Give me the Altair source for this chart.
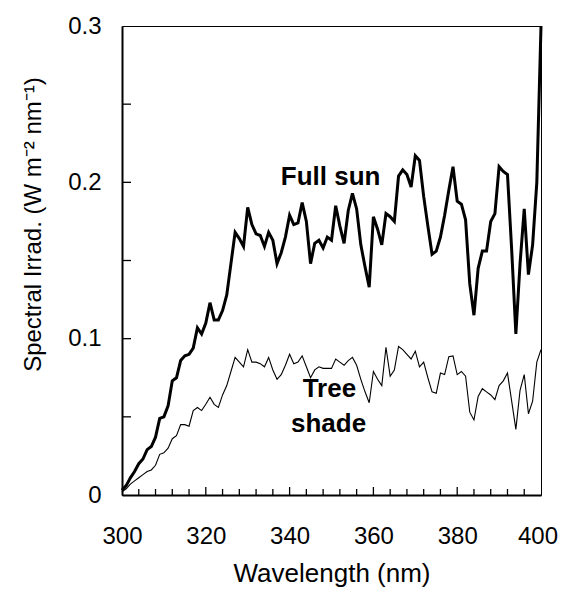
import altair as alt
import pandas as pd

wavelength = [300, 301, 302, 303, 304, 305, 306, 307, 308, 309,
              310, 311, 312, 313, 314, 315, 316, 317, 318, 319,
              320, 321, 322, 323, 324, 325, 326, 327, 328, 329,
              330, 331, 332, 333, 334, 335, 336, 337, 338, 339,
              340, 341, 342, 343, 344, 345, 346, 347, 348, 349,
              350, 351, 352, 353, 354, 355, 356, 357, 358, 359,
              360, 361, 362, 363, 364, 365, 366, 367, 368, 369,
              370, 371, 372, 373, 374, 375, 376, 377, 378, 379,
              380, 381, 382, 383, 384, 385, 386, 387, 388, 389,
              390, 391, 392, 393, 394, 395, 396, 397, 398, 399, 400]

full_sun = [0.003, 0.006, 0.011, 0.015, 0.020, 0.023, 0.029, 0.031, 0.037, 0.049,
            0.050, 0.057, 0.073, 0.075, 0.086, 0.089, 0.090, 0.094, 0.107, 0.103,
            0.110, 0.123, 0.112, 0.112, 0.118, 0.128, 0.148, 0.168, 0.164, 0.159,
            0.184, 0.173, 0.167, 0.166, 0.159, 0.168, 0.163, 0.148, 0.155, 0.165,
            0.179, 0.173, 0.174, 0.187, 0.175, 0.148, 0.161, 0.163, 0.158, 0.165,
            0.163, 0.185, 0.172, 0.161, 0.182, 0.193, 0.183, 0.160, 0.146, 0.133,
            0.178, 0.170, 0.160, 0.180, 0.178, 0.175, 0.204, 0.208, 0.205, 0.197,
            0.217, 0.214, 0.191, 0.172, 0.154, 0.156, 0.165, 0.179, 0.195, 0.210,
            0.188, 0.186, 0.176, 0.135, 0.115, 0.145, 0.156, 0.156, 0.175, 0.180,
            0.210, 0.207, 0.205, 0.157, 0.103, 0.148, 0.183, 0.141, 0.160, 0.200, 0.300]

tree_shade = [0.002, 0.004, 0.007, 0.009, 0.011, 0.013, 0.015, 0.016, 0.019, 0.026,
              0.027, 0.030, 0.036, 0.038, 0.045, 0.045, 0.044, 0.054, 0.056, 0.054,
              0.058, 0.0625, 0.058, 0.056, 0.064, 0.070, 0.079, 0.088, 0.085, 0.082,
              0.093, 0.085, 0.085, 0.084, 0.082, 0.088, 0.080, 0.074, 0.077, 0.083,
              0.090, 0.084, 0.085, 0.089, 0.082, 0.075, 0.080, 0.082, 0.081, 0.081,
              0.081, 0.087, 0.085, 0.083, 0.086, 0.088, 0.083, 0.074, 0.066, 0.059,
              0.079, 0.074, 0.070, 0.0945, 0.076, 0.080, 0.095, 0.093, 0.090, 0.087,
              0.092, 0.082, 0.085, 0.075, 0.066, 0.065, 0.078, 0.077, 0.0885, 0.089,
              0.077, 0.079, 0.076, 0.053, 0.048, 0.063, 0.068, 0.066, 0.064, 0.061,
              0.070, 0.073, 0.078, 0.060, 0.042, 0.067, 0.077, 0.052, 0.060, 0.085, 0.093]

label_text = ["Full sun", "Tree", "shade"]
label_x = [349.8, 349.5, 349.3]
label_y = [0.1983, 0.0627, 0.0403]

x_label_values = [300, 320, 340, 360, 380, 400]
y_tick_values = [0, 0.05, 0.1, 0.15, 0.2, 0.25, 0.3]
y_inner_ticks = [0.05, 0.1, 0.15, 0.2, 0.25]
x_minor_ticks = [304, 308, 312, 316, 324, 328, 332, 336, 344, 348, 352, 356,
                 364, 368, 372, 376, 384, 388, 392, 396]
x_major_ticks = [320, 340, 360, 380]

W, H = 419, 469
FONT = "Liberation Sans"

df = pd.DataFrame({"wl": wavelength, "sun": full_sun, "shade": tree_shade})
labels = pd.DataFrame({"t": label_text, "x": label_x, "y": label_y})

xs = alt.Scale(domain=[300, 400], nice=False, zero=False)
ys = alt.Scale(domain=[0, 0.3], nice=False)

X_TITLE = "Wavelength (nm)"
Y_TITLE = "Spectral Irrad. (W m\u207b\u00b2 nm\u207b\u00b9)"

x_axis = alt.Axis(values=x_label_values, ticks=False, grid=False, domainColor="black",
                  domainWidth=2, labelFont=FONT, labelFontSize=24, labelColor="black",
                  labelPadding=48, labelBaseline="alphabetic", labelFlush=False,
                  labelOffset={"condition": {"test": "datum.value == 400", "value": -3.5},
                               "value": 0},
                  labelOverlap=False, titleFont=FONT,
                  titleFontSize=26, titleFontWeight="normal", titleColor="black",
                  titleY=86, titleBaseline="alphabetic")
y_axis = alt.Axis(values=y_tick_values, ticks=False, grid=False, domainColor="black",
                  domainWidth=2, labelFont=FONT, labelFontSize=24, labelColor="black",
                  labelPadding=21, labelOverlap=False, labelFlush=False,
                  labelExpr="round(datum.value*100) % 10 == 0 ? (datum.value == 0 ? '0' : format(datum.value, '.1f')) : ''",
                  titleFont=FONT,
                  titleFontSize=24, titleFontWeight="normal", titleColor="black",
                  titleAngle=-90, titleX=-89, titleY=198, titleBaseline="middle",
                  titleAlign="center")


def X(field):
    return alt.X(field, scale=xs, axis=x_axis, title=X_TITLE)


def Y(field):
    return alt.Y(field, scale=ys, axis=y_axis, title=Y_TITLE)


base = alt.Chart(df)
sun_line = base.mark_line(color="black", strokeWidth=3, strokeJoin="miter").encode(
    x=X("wl:Q"), y=Y("sun:Q"))
shade_line = base.mark_line(color="black", strokeWidth=1.1).encode(
    x=X("wl:Q"), y=Y("shade:Q"))
text = alt.Chart(labels).mark_text(font=FONT, fontSize=26, fontWeight="bold",
                                   color="black", align="center",
                                   baseline="alphabetic").encode(
    x=X("x:Q"), y=Y("y:Q"), text="t:N")
ytk = alt.Chart(pd.DataFrame({"v": y_inner_ticks})).mark_rule(
    color="black", strokeWidth=1.3).encode(
    y=Y("v:Q"), x=alt.value(0), x2=alt.value(9))
xmin = alt.Chart(pd.DataFrame({"v": x_minor_ticks})).mark_rule(
    color="black", strokeWidth=1.3).encode(
    x=X("v:Q"), y=alt.value(H), y2=alt.value(H - 6))
xmaj = alt.Chart(pd.DataFrame({"v": x_major_ticks})).mark_rule(
    color="black", strokeWidth=1.3).encode(
    x=X("v:Q"), y=alt.value(H), y2=alt.value(H - 8))

chart = alt.layer(sun_line, shade_line, text, ytk, xmin, xmaj).properties(
    width=W, height=H,
    autosize=alt.AutoSizeParams(type="none"),
    padding={"left": 114, "top": 18, "right": 17, "bottom": 92},
    background="white",
).configure_view(stroke="black", strokeWidth=1)

chart.save("out.html", embed_options={"renderer": "svg", "actions": False})
